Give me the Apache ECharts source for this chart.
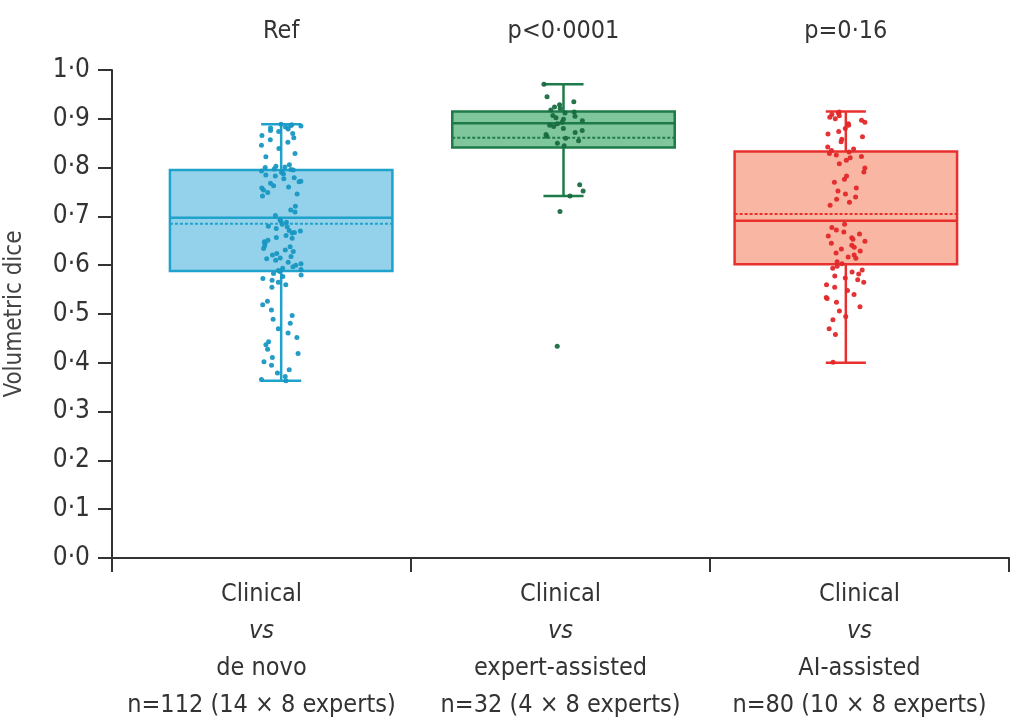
<!DOCTYPE html>
<html>
<head>
<meta charset="utf-8">
<script src="https://cdn.jsdelivr.net/npm/echarts@6/dist/echarts.min.js"></script>
<style>
html,body{margin:0;padding:0;background:#fff;}
#chart{width:1018px;height:728px;}
</style>
</head>
<body>
<div id="chart"></div>
<script>
// ---- data ----
const categories = ['de novo', 'expert-assisted', 'AI-assisted'];
const sampleLabels = ['n=112 (14 × 8 experts)', 'n=32 (4 × 8 experts)', 'n=80 (10 × 8 experts)'];
const pLabels = ['Ref', 'p<0·0001', 'p=0·16'];

// box statistics: [min, Q1, median, mean, Q3, max]
const statsDeNovo   = [0.363, 0.588, 0.697, 0.685, 0.795, 0.889];
const statsExpert   = [0.742, 0.841, 0.891, 0.861, 0.915, 0.971];
const statsAI       = [0.400, 0.602, 0.691, 0.705, 0.833, 0.915];

const pointsDeNovo = [
  0.889,0.888,0.886,0.885,0.883,0.881,0.879,0.876,0.874,0.870,0.866,0.861,0.857,0.852,
  0.846,0.839,0.829,0.822,
  0.806,0.803,0.801,0.800,0.797,0.796,0.795,0.793,0.791,0.790,0.787,0.785,0.783,0.779,0.777,0.772,0.771,0.768,0.763,0.760,0.758,0.754,0.749,0.746,0.742,
  0.721,0.713,0.709,0.702,
  0.693,0.690,0.688,0.684,0.680,0.679,0.675,0.671,0.670,0.667,0.666,0.661,0.657,0.655,0.651,0.648,0.645,0.640,0.638,0.634,0.631,0.628,0.624,0.621,0.618,0.615,0.613,0.610,0.606,0.603,0.600,0.597,0.594,0.591,0.589,0.587,
  0.583,0.580,0.577,0.573,0.569,0.565,0.560,0.555,
  0.526,0.519,0.508,0.497,0.489,0.481,0.470,0.461,0.452,0.443,0.437,0.428,0.419,0.411,0.402,0.395,0.386,0.379,0.372,0.366,0.363
];
const pointsExpert = [
  0.971,0.945,0.935,0.929,0.924,0.921,0.918,0.914,0.912,0.907,0.905,0.902,0.899,0.896,0.893,0.890,
  0.887,0.884,0.880,0.876,0.872,0.868,0.864,0.860,0.855,0.850,0.845,0.765,0.752,0.742,0.710,0.434
];
const pointsAI = [
  0.914,0.912,0.909,0.906,0.903,0.900,0.897,0.893,0.890,0.887,0.880,
  0.874,0.869,0.863,0.858,0.853,
  0.842,0.838,0.835,0.832,0.829,0.826,0.823,0.820,0.815,
  0.808,0.799,0.791,0.783,0.776,0.770,
  0.758,0.752,0.746,0.740,0.735,0.729,0.723,
  0.684,0.677,0.672,0.668,0.664,0.660,0.656,0.653,0.649,0.645,0.641,0.637,0.633,0.629,0.625,0.621,0.617,0.614,
  0.607,0.603,0.598,0.594,0.590,0.586,0.582,0.578,0.574,0.570,0.565,0.560,0.555,0.548,
  0.540,0.534,0.532,0.524,0.515,0.506,0.495,0.488,
  0.470,0.458,0.401
];

const yTicks = [0, 0.1, 0.2, 0.3, 0.4, 0.5, 0.6, 0.7, 0.8, 0.9, 1.0];

// ---- styles ----
const FONT = "'Liberation Sans Narrow','DejaVu Sans Condensed',sans-serif";
const strokeColors = ['#1fa2cc', '#1d7b4a', '#e8312e'];
const fillColors   = ['#93d2ea', '#80c69d', '#f8b6a3'];
const pointColors  = ['#1897c3', '#186c40', '#e2282a'];

const allStats = [statsDeNovo, statsExpert, statsAI];
const boxData = allStats.map((s, i) => [i].concat(s));

const chart = echarts.init(document.getElementById('chart'), null, {renderer: 'canvas'});

function renderBox(params, api) {
  const i = api.value(0);
  const vMin = api.value(1), q1 = api.value(2), med = api.value(3), mean = api.value(4), q3 = api.value(5), vMax = api.value(6);
  const band = api.size([1, 0])[0];
  const half = band * 0.394;
  const capHalf = band * 0.071;
  const pMin = api.coord([i, vMin]);
  const pQ1 = api.coord([i, q1]);
  const pMed = api.coord([i, med]);
  const pMean = api.coord([i, mean]);
  const pQ3 = api.coord([i, q3]);
  const pMax = api.coord([i, vMax]);
  const cx = pMin[0];
  const stroke = strokeColors[i];
  const lw = 2.5;
  return {
    type: 'group',
    children: [
      {type: 'line', shape: {x1: cx, y1: pMax[1], x2: cx, y2: pMin[1]}, style: {stroke, lineWidth: lw}},
      {type: 'rect', shape: {x: cx - half, y: pQ3[1], width: half * 2, height: pQ1[1] - pQ3[1]},
        style: {fill: fillColors[i], stroke, lineWidth: lw}},
      {type: 'line', shape: {x1: cx - capHalf, y1: pMax[1], x2: cx + capHalf, y2: pMax[1]}, style: {stroke, lineWidth: lw}},
      {type: 'line', shape: {x1: cx - capHalf, y1: pMin[1], x2: cx + capHalf, y2: pMin[1]}, style: {stroke, lineWidth: lw}},
      {type: 'line', shape: {x1: cx - half, y1: pMed[1], x2: cx + half, y2: pMed[1]}, style: {stroke, lineWidth: lw}},
      {type: 'line', shape: {x1: cx - half, y1: pMean[1], x2: cx + half, y2: pMean[1]}, style: {stroke, lineWidth: 2, lineDash: [3, 2]}}
    ]
  };
}

const pointSets = [pointsDeNovo, pointsExpert, pointsAI];
const scatterSeries = pointSets.map((pts, i) => ({
  type: 'scatter',
  xAxisIndex: 1,
  yAxisIndex: 1,
  symbolSize: 5,
  z: 5,
  itemStyle: {color: pointColors[i], opacity: 0.95},
  data: pts.map(v => [categories[i], v]),
  silent: true
}));

const option = {
  animation: false,
  backgroundColor: '#ffffff',
  textStyle: {fontFamily: FONT},
  grid: [
    {left: 112, right: 9, top: 70, bottom: 170, containLabel: false, outerBoundsMode: 'none'},
    {left: 140, right: 31, top: 70, bottom: 170, containLabel: false, outerBoundsMode: 'none'}
  ],
  xAxis: [
    {
      gridIndex: 0,
      type: 'category',
      data: categories,
      position: 'bottom',
      boundaryGap: true,
      axisLine: {lineStyle: {color: '#333', width: 2}},
      axisTick: {show: true, length: 14, alignWithLabel: false, lineStyle: {color: '#333', width: 2}},
      axisLabel: {
        margin: 18,
        color: '#333',
        fontFamily: FONT,
        fontSize: 25,
        lineHeight: 37,
        interval: 0,
        formatter: (v, idx) => '{a|Clinical}\n{i|vs}\n{a|' + v + '}\n{a|' + sampleLabels[idx] + '}',
        rich: {
          a: {fontFamily: FONT, fontSize: 25, lineHeight: 37, color: '#333'},
          i: {fontFamily: FONT, fontSize: 25, lineHeight: 37, color: '#333', fontStyle: 'italic'}
        }
      },
      splitLine: {show: false}
    },
    {
      gridIndex: 1,
      type: 'category',
      data: categories,
      position: 'bottom',
      boundaryGap: true,
      jitter: 40,
      jitterOverlap: true,
      axisLine: {show: false},
      axisTick: {show: false},
      axisLabel: {show: false},
      splitLine: {show: false}
    },
    {
      gridIndex: 1,
      type: 'category',
      data: pLabels,
      position: 'top',
      axisLine: {show: false},
      axisTick: {show: false},
      axisLabel: {
        margin: 26,
        interval: 0,
        color: '#333',
        fontFamily: FONT,
        fontSize: 25
      },
      splitLine: {show: false}
    }
  ],
  yAxis: [
    {
      gridIndex: 0,
      type: 'value',
      min: 0,
      max: 1,
      interval: 0.1,
      name: 'Volumetric dice',
      nameLocation: 'middle',
      nameGap: 85,
      nameRotate: 90,
      nameTextStyle: {fontFamily: FONT, fontSize: 24, color: '#444'},
      axisLine: {show: true, lineStyle: {color: '#333', width: 2}},
      axisTick: {show: true, length: 14, lineStyle: {color: '#333', width: 2}},
      axisLabel: {
        margin: 22,
        color: '#333',
        fontFamily: FONT,
        fontSize: 26,
        formatter: v => {
          const t = yTicks.find(x => Math.abs(x - v) < 1e-9);
          return (t !== undefined ? t : v).toFixed(1).replace('.', '·');
        }
      },
      splitLine: {show: false}
    },
    {
      gridIndex: 1,
      type: 'value',
      min: 0,
      max: 1,
      interval: 0.1,
      show: false,
      splitLine: {show: false}
    }
  ],
  series: [
    {
      type: 'custom',
      xAxisIndex: 1,
      yAxisIndex: 1,
      z: 2,
      renderItem: renderBox,
      encode: {x: 0, y: [1, 2, 3, 4, 5, 6]},
      data: boxData,
      silent: true
    }
  ].concat(scatterSeries)
};

chart.setOption(option);
</script>
</body>
</html>
